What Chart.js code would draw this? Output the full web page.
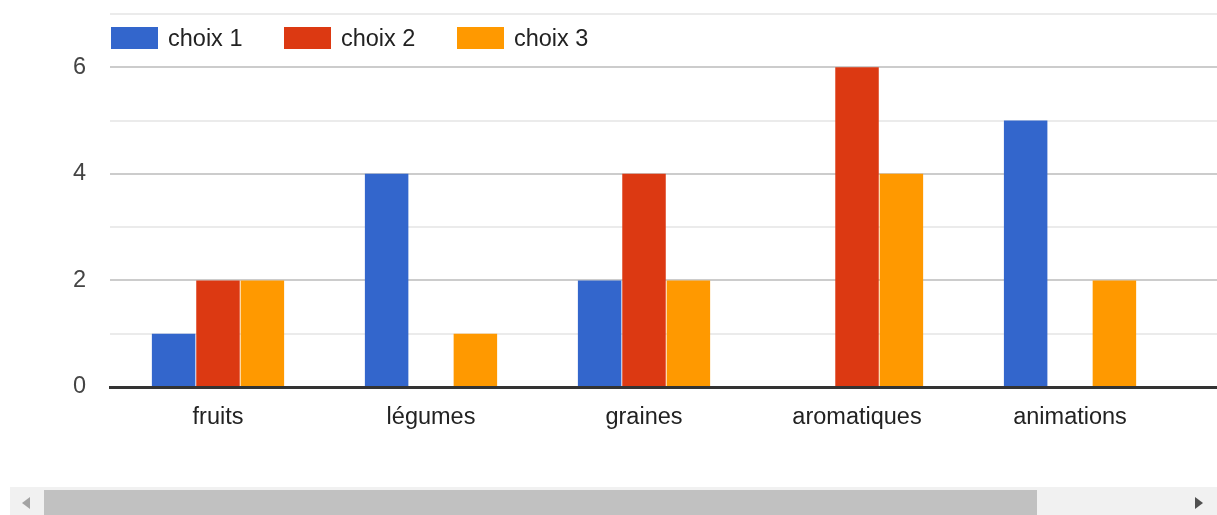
<!DOCTYPE html>
<html lang="fr">
<head>
<meta charset="utf-8">
<script src="https://cdn.jsdelivr.net/npm/chart.js"></script>
<style>
    body { margin: 0; background: #fff; font-family: "Liberation Sans", Arial, sans-serif; }
    #wrap { position: relative; width: 1217px; height: 515px; overflow: hidden; }
    #chart { position: absolute; left: 0; top: 0; }
    #legend { position: absolute; left: 111px; top: 27px; display: flex; align-items: center; }
    #legend .item { display: flex; align-items: center; margin-right: 41.5px; }
    #legend .box { width: 47px; height: 22px; margin-right: 10px; }
    #legend .txt { font-size: 23.5px; color: #222; line-height: 22px; }
    .track { position: absolute; left: 10px; top: 487px; width: 1207px; height: 28px; background: #f1f1f1; }
    .thumb { position: absolute; left: 44px; top: 490px; width: 993px; height: 25px; background: #c1c1c1; }
    .arrow { position: absolute; top: 497px; width: 0; height: 0; border-top: 6.5px solid transparent; border-bottom: 6.5px solid transparent; }
    .arrow.left { left: 22px; border-right: 8px solid #a3a3a3; }
    .arrow.right { left: 1195px; border-left: 8px solid #505050; }
</style>
</head>
<body>
<div id="wrap">
    <canvas id="chart" width="1217" height="487"></canvas>
    <div id="legend"></div>
    <div class="track"></div>
    <div class="thumb"></div>
    <div class="arrow left"></div>
    <div class="arrow right"></div>
</div>
<script>
const categories = ['fruits', 'légumes', 'graines', 'aromatiques', 'animations'];
const seriesNames = ['choix 1', 'choix 2', 'choix 3'];
const choix1 = [1, 4, 2, 0, 5];
const choix2 = [2, 0, 4, 6, 0];
const choix3 = [2, 1, 2, 4, 2];
const yTicks = [0, 1, 2, 3, 4, 5, 6, 7];

const COLORS = ['#3366cc', '#dc3912', '#ff9900'];
const FONT = { family: '"Liberation Sans", Arial, sans-serif', size: 23.5 };

// the chart is wider than the visible window (scrolled), so the plot runs past the right edge
const xMin = -0.507;
const xMax = 4.69;

function toPoints(values) {
    return values.map((v, i) => ({ x: i, y: v }));
}

function noPadding(scale) {
    scale.paddingTop = 0;
    scale.paddingBottom = 0;
    scale.paddingLeft = 0;
    scale.paddingRight = 0;
}

const datasets = [choix1, choix2, choix3].map((values, i) => ({
    label: seriesNames[i],
    data: toPoints(values),
    backgroundColor: COLORS[i],
    borderWidth: 0,
    barPercentage: 0.98,
    categoryPercentage: 0.625,
}));

const chart = new Chart(document.getElementById('chart'), {
    type: 'bar',
    data: { datasets },
    options: {
        responsive: false,
        animation: false,
        layout: { padding: { top: 14, right: 0, bottom: 0, left: 0 } },
        plugins: { legend: { display: false }, tooltip: { enabled: false } },
        scales: {
            x: {
                type: 'linear',
                min: xMin,
                max: xMax,
                offset: false,
                afterBuildTicks: (scale) => {
                    scale.ticks = categories.map((c, i) => ({ value: i }));
                },
                afterFit: (scale) => {
                    scale.height = 100;
                    noPadding(scale);
                },
                grid: { display: false, drawTicks: false, tickLength: 0, offset: false },
                border: { display: true, color: '#333', width: 3, z: 1 },
                ticks: {
                    color: '#222',
                    font: FONT,
                    padding: 16,
                    maxRotation: 0,
                    autoSkip: false,
                    callback: (v) => categories[v] ?? '',
                },
            },
            y: {
                min: 0,
                max: 7,
                afterBuildTicks: (scale) => {
                    scale.ticks = yTicks.map((v) => ({ value: v }));
                },
                afterFit: (scale) => {
                    scale.width = 110;
                    noPadding(scale);
                },
                border: { display: false },
                grid: {
                    drawTicks: false,
                    tickLength: 0,
                    lineWidth: 2,
                    color: (ctx) => {
                        const v = ctx.tick ? ctx.tick.value : 0;
                        if (v === 0) return 'rgba(0,0,0,0)';
                        return v % 2 === 0 ? '#cccccc' : '#ebebeb';
                    },
                },
                ticks: {
                    color: '#444',
                    font: FONT,
                    padding: 24,
                    callback: (v) => (v % 2 === 0 ? String(v) : ''),
                },
            },
        },
    },
});

// legend built from the chart datasets
const legendEl = document.getElementById('legend');
chart.data.datasets.forEach((ds) => {
    const item = document.createElement('div');
    item.className = 'item';
    const box = document.createElement('span');
    box.className = 'box';
    box.style.background = ds.backgroundColor;
    const txt = document.createElement('span');
    txt.className = 'txt';
    txt.textContent = ds.label;
    item.appendChild(box);
    item.appendChild(txt);
    legendEl.appendChild(item);
});
</script>
</body>
</html>
